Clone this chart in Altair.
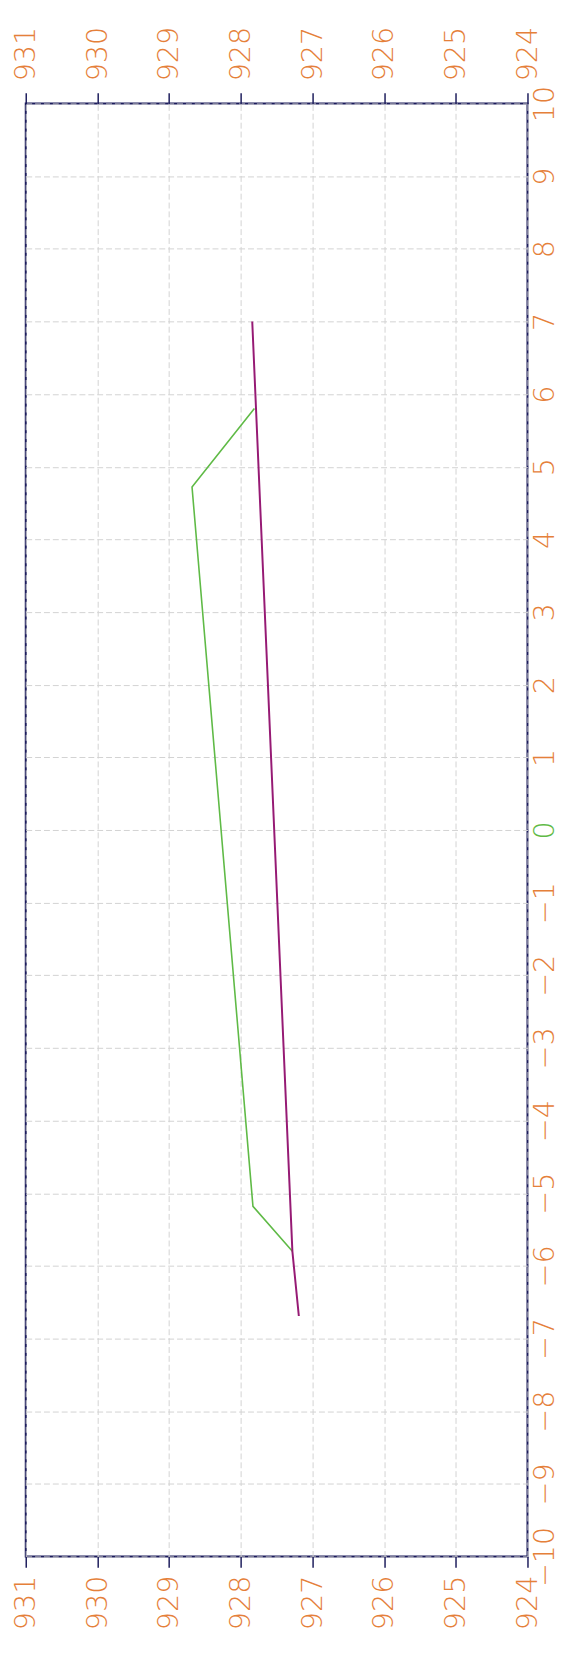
import altair as alt
import pandas as pd

# tick values
elev_ticks = [924, 925, 926, 927, 928, 929, 930, 931]
station_ticks = list(range(-10, 11))

# purple line (station, elevation)
purple_station = [7.0, -5.80, -6.69]
purple_elev = [927.84, 927.28, 927.19]

# green line (station, elevation)
green_station = [5.80, 4.72, -5.18, -5.80]
green_elev = [927.81, 928.68, 927.83, 927.28]

purple_df = pd.DataFrame({"station": purple_station, "elev": purple_elev,
                          "idx": list(range(len(purple_station)))})
green_df = pd.DataFrame({"station": green_station, "elev": green_elev,
                         "idx": list(range(len(green_station)))})

NAVY = "#1c1c5c"
ORANGE = "#e5803a"
GREEN = "#5fba46"
PURPLE = "#961a74"
GRID = "#d2d2d2"
FONT = "DejaVu Sans, sans-serif"
FS = 29
FW = 200

xscale = alt.Scale(domain=[924, 931], reverse=True, nice=False, zero=False)
yscale = alt.Scale(domain=[-10, 10], nice=False, zero=False)

top_axis = alt.Axis(orient="top", values=elev_ticks, format="d", title=None,
                    labelAngle=270, labelAlign="left", labelBaseline="middle",
                    labelColor=ORANGE, labelFont=FONT, labelFontSize=FS,
                    labelFontWeight=FW,
                    labelPadding=12, labelFlush=False, labelOverlap=False,
                    tickSize=11, tickColor=NAVY, tickWidth=1.5, domain=False,
                    grid=True, gridColor=GRID, gridDash=[6, 3], gridWidth=1)

bottom_axis = alt.Axis(orient="bottom", values=elev_ticks, format="d", title=None,
                       labelAngle=270, labelAlign="right", labelBaseline="middle",
                       labelColor=ORANGE, labelFont=FONT, labelFontSize=FS,
                       labelFontWeight=FW,
                       labelPadding=8, labelFlush=False, labelOverlap=False,
                       tickSize=11, tickColor=NAVY, tickWidth=1.5, domain=False,
                       grid=False)

right_axis = alt.Axis(orient="right", values=station_ticks, format="d", title=None,
                      labelAngle=270, labelAlign="center", labelBaseline="top",
                      labelColor={"condition": {"test": "datum.value === 0", "value": GREEN},
                                  "value": ORANGE},
                      labelFont=FONT, labelFontSize=FS, labelFontWeight=FW,
                      labelPadding=3, labelFlush=False, labelOverlap=False,
                      ticks=False, domain=False,
                      grid=True, gridColor=GRID, gridDash=[6, 3], gridWidth=1)

purple = alt.Chart(purple_df).mark_line(color=PURPLE, strokeWidth=2).encode(
    x=alt.X("elev:Q", scale=xscale, axis=top_axis),
    y=alt.Y("station:Q", scale=yscale, axis=right_axis),
    order=alt.Order("idx:Q"),
)

green = alt.Chart(green_df).mark_line(color=GREEN, strokeWidth=1.6).encode(
    x=alt.X("elev:Q", scale=xscale, axis=bottom_axis),
    y=alt.Y("station:Q", scale=yscale, axis=None),
    order=alt.Order("idx:Q"),
)

chart = alt.layer(green, purple).resolve_axis(
    x="independent", y="independent"
).properties(
    width=509, height=1474,
    autosize=alt.AutoSizeParams(type="none"),
    padding={"left": 18, "top": 85, "right": 34, "bottom": 82},
    background="white",
).configure_view(stroke=NAVY, strokeWidth=2)

chart.save("out.html", embed_options={"renderer": "svg", "actions": False})
